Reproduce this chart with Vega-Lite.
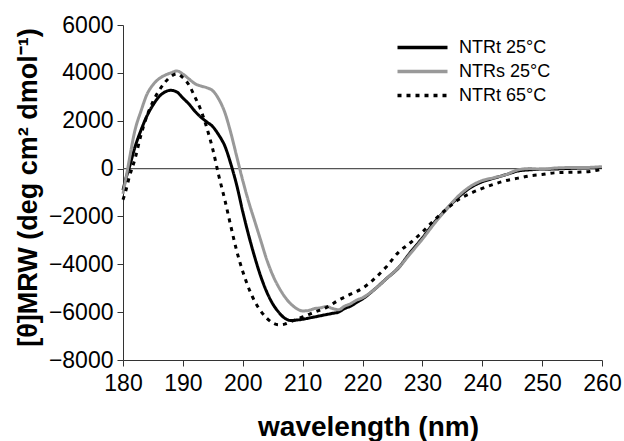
{
  "$schema": "https://vega.github.io/schema/vega-lite/v6.json",
  "width": 479,
  "height": 335,
  "autosize": "none",
  "padding": {"left": 123, "top": 25, "right": 22, "bottom": 81},
  "background": "white",
  "config": {
    "view": {"stroke": null},
    "font": "Liberation Sans",
    "axis": {"grid": false, "domainColor": "#333333", "tickColor": "#333333", "labelColor": "#000000", "titleColor": "#000000", "labelFont": "Liberation Sans", "titleFont": "Liberation Sans"}
  },
  "datasets": {
    "cd": [
      {"s": "NTRt 25°C", "wl": 180, "v": -900},
      {"s": "NTRt 25°C", "wl": 180.5, "v": -400},
      {"s": "NTRt 25°C", "wl": 181, "v": 0},
      {"s": "NTRt 25°C", "wl": 182, "v": 900},
      {"s": "NTRt 25°C", "wl": 183, "v": 1600},
      {"s": "NTRt 25°C", "wl": 184, "v": 2200},
      {"s": "NTRt 25°C", "wl": 185, "v": 2650},
      {"s": "NTRt 25°C", "wl": 186, "v": 3000},
      {"s": "NTRt 25°C", "wl": 187, "v": 3200},
      {"s": "NTRt 25°C", "wl": 188, "v": 3270},
      {"s": "NTRt 25°C", "wl": 189, "v": 3200},
      {"s": "NTRt 25°C", "wl": 190, "v": 2950},
      {"s": "NTRt 25°C", "wl": 191, "v": 2700},
      {"s": "NTRt 25°C", "wl": 192, "v": 2400},
      {"s": "NTRt 25°C", "wl": 193, "v": 2150},
      {"s": "NTRt 25°C", "wl": 194, "v": 1950},
      {"s": "NTRt 25°C", "wl": 195, "v": 1750},
      {"s": "NTRt 25°C", "wl": 196, "v": 1400},
      {"s": "NTRt 25°C", "wl": 197, "v": 950},
      {"s": "NTRt 25°C", "wl": 198, "v": 200},
      {"s": "NTRt 25°C", "wl": 199, "v": -700},
      {"s": "NTRt 25°C", "wl": 200, "v": -1800},
      {"s": "NTRt 25°C", "wl": 201, "v": -2800},
      {"s": "NTRt 25°C", "wl": 202, "v": -3700},
      {"s": "NTRt 25°C", "wl": 203, "v": -4500},
      {"s": "NTRt 25°C", "wl": 204, "v": -5150},
      {"s": "NTRt 25°C", "wl": 205, "v": -5650},
      {"s": "NTRt 25°C", "wl": 206, "v": -6000},
      {"s": "NTRt 25°C", "wl": 207, "v": -6250},
      {"s": "NTRt 25°C", "wl": 208, "v": -6350},
      {"s": "NTRt 25°C", "wl": 209, "v": -6330},
      {"s": "NTRt 25°C", "wl": 210, "v": -6300},
      {"s": "NTRt 25°C", "wl": 211, "v": -6250},
      {"s": "NTRt 25°C", "wl": 212, "v": -6200},
      {"s": "NTRt 25°C", "wl": 213, "v": -6150},
      {"s": "NTRt 25°C", "wl": 214, "v": -6100},
      {"s": "NTRt 25°C", "wl": 215, "v": -6050},
      {"s": "NTRt 25°C", "wl": 216, "v": -6000},
      {"s": "NTRt 25°C", "wl": 217, "v": -5850},
      {"s": "NTRt 25°C", "wl": 218, "v": -5750},
      {"s": "NTRt 25°C", "wl": 219, "v": -5600},
      {"s": "NTRt 25°C", "wl": 220, "v": -5450},
      {"s": "NTRt 25°C", "wl": 222, "v": -5050},
      {"s": "NTRt 25°C", "wl": 224, "v": -4600},
      {"s": "NTRt 25°C", "wl": 226, "v": -4150},
      {"s": "NTRt 25°C", "wl": 228, "v": -3500},
      {"s": "NTRt 25°C", "wl": 230, "v": -2900},
      {"s": "NTRt 25°C", "wl": 232, "v": -2250},
      {"s": "NTRt 25°C", "wl": 234, "v": -1700},
      {"s": "NTRt 25°C", "wl": 236, "v": -1200},
      {"s": "NTRt 25°C", "wl": 238, "v": -800},
      {"s": "NTRt 25°C", "wl": 240, "v": -550},
      {"s": "NTRt 25°C", "wl": 242, "v": -400},
      {"s": "NTRt 25°C", "wl": 244, "v": -250},
      {"s": "NTRt 25°C", "wl": 246, "v": -100},
      {"s": "NTRt 25°C", "wl": 248, "v": -50},
      {"s": "NTRt 25°C", "wl": 250, "v": -30},
      {"s": "NTRt 25°C", "wl": 252, "v": -20},
      {"s": "NTRt 25°C", "wl": 254, "v": 0},
      {"s": "NTRt 25°C", "wl": 256, "v": 20},
      {"s": "NTRt 25°C", "wl": 258, "v": 30},
      {"s": "NTRt 25°C", "wl": 260, "v": 50},

      {"s": "NTRs 25°C", "wl": 180, "v": -1050},
      {"s": "NTRs 25°C", "wl": 180.5, "v": -400},
      {"s": "NTRs 25°C", "wl": 181, "v": 300},
      {"s": "NTRs 25°C", "wl": 182, "v": 1600},
      {"s": "NTRs 25°C", "wl": 183, "v": 2400},
      {"s": "NTRs 25°C", "wl": 184, "v": 3100},
      {"s": "NTRs 25°C", "wl": 185, "v": 3500},
      {"s": "NTRs 25°C", "wl": 186, "v": 3750},
      {"s": "NTRs 25°C", "wl": 187, "v": 3900},
      {"s": "NTRs 25°C", "wl": 188, "v": 4000},
      {"s": "NTRs 25°C", "wl": 189, "v": 4080},
      {"s": "NTRs 25°C", "wl": 190, "v": 3950},
      {"s": "NTRs 25°C", "wl": 191, "v": 3750},
      {"s": "NTRs 25°C", "wl": 192, "v": 3550},
      {"s": "NTRs 25°C", "wl": 193, "v": 3450},
      {"s": "NTRs 25°C", "wl": 194, "v": 3380},
      {"s": "NTRs 25°C", "wl": 195, "v": 3250},
      {"s": "NTRs 25°C", "wl": 196, "v": 2900},
      {"s": "NTRs 25°C", "wl": 197, "v": 2350},
      {"s": "NTRs 25°C", "wl": 198, "v": 1500},
      {"s": "NTRs 25°C", "wl": 199, "v": 500},
      {"s": "NTRs 25°C", "wl": 200, "v": -500},
      {"s": "NTRs 25°C", "wl": 201, "v": -1400},
      {"s": "NTRs 25°C", "wl": 202, "v": -2200},
      {"s": "NTRs 25°C", "wl": 203, "v": -3000},
      {"s": "NTRs 25°C", "wl": 204, "v": -3800},
      {"s": "NTRs 25°C", "wl": 205, "v": -4450},
      {"s": "NTRs 25°C", "wl": 206, "v": -4950},
      {"s": "NTRs 25°C", "wl": 207, "v": -5350},
      {"s": "NTRs 25°C", "wl": 208, "v": -5650},
      {"s": "NTRs 25°C", "wl": 209, "v": -5850},
      {"s": "NTRs 25°C", "wl": 210, "v": -5950},
      {"s": "NTRs 25°C", "wl": 211, "v": -5930},
      {"s": "NTRs 25°C", "wl": 212, "v": -5850},
      {"s": "NTRs 25°C", "wl": 213, "v": -5820},
      {"s": "NTRs 25°C", "wl": 214, "v": -5760},
      {"s": "NTRs 25°C", "wl": 215, "v": -5850},
      {"s": "NTRs 25°C", "wl": 216, "v": -5900},
      {"s": "NTRs 25°C", "wl": 217, "v": -5750},
      {"s": "NTRs 25°C", "wl": 218, "v": -5650},
      {"s": "NTRs 25°C", "wl": 219, "v": -5500},
      {"s": "NTRs 25°C", "wl": 220, "v": -5400},
      {"s": "NTRs 25°C", "wl": 222, "v": -5050},
      {"s": "NTRs 25°C", "wl": 224, "v": -4600},
      {"s": "NTRs 25°C", "wl": 226, "v": -4150},
      {"s": "NTRs 25°C", "wl": 228, "v": -3550},
      {"s": "NTRs 25°C", "wl": 230, "v": -2950},
      {"s": "NTRs 25°C", "wl": 232, "v": -2300},
      {"s": "NTRs 25°C", "wl": 234, "v": -1700},
      {"s": "NTRs 25°C", "wl": 236, "v": -1150},
      {"s": "NTRs 25°C", "wl": 238, "v": -750},
      {"s": "NTRs 25°C", "wl": 240, "v": -500},
      {"s": "NTRs 25°C", "wl": 242, "v": -380},
      {"s": "NTRs 25°C", "wl": 244, "v": -250},
      {"s": "NTRs 25°C", "wl": 246, "v": -50},
      {"s": "NTRs 25°C", "wl": 248, "v": 0},
      {"s": "NTRs 25°C", "wl": 250, "v": -30},
      {"s": "NTRs 25°C", "wl": 252, "v": 20},
      {"s": "NTRs 25°C", "wl": 254, "v": 40},
      {"s": "NTRs 25°C", "wl": 256, "v": 40},
      {"s": "NTRs 25°C", "wl": 258, "v": 50},
      {"s": "NTRs 25°C", "wl": 260, "v": 80},

      {"s": "NTRt 65°C", "wl": 180, "v": -1300},
      {"s": "NTRt 65°C", "wl": 180.5, "v": -900},
      {"s": "NTRt 65°C", "wl": 181, "v": -400},
      {"s": "NTRt 65°C", "wl": 182, "v": 400},
      {"s": "NTRt 65°C", "wl": 183, "v": 1400},
      {"s": "NTRt 65°C", "wl": 184, "v": 2200},
      {"s": "NTRt 65°C", "wl": 185, "v": 2800},
      {"s": "NTRt 65°C", "wl": 186, "v": 3250},
      {"s": "NTRt 65°C", "wl": 187, "v": 3600},
      {"s": "NTRt 65°C", "wl": 188, "v": 3850},
      {"s": "NTRt 65°C", "wl": 189, "v": 3960},
      {"s": "NTRt 65°C", "wl": 190, "v": 3800},
      {"s": "NTRt 65°C", "wl": 191, "v": 3500},
      {"s": "NTRt 65°C", "wl": 192, "v": 3000},
      {"s": "NTRt 65°C", "wl": 193, "v": 2450},
      {"s": "NTRt 65°C", "wl": 194, "v": 1700},
      {"s": "NTRt 65°C", "wl": 195, "v": 800},
      {"s": "NTRt 65°C", "wl": 196, "v": -300},
      {"s": "NTRt 65°C", "wl": 197, "v": -1300},
      {"s": "NTRt 65°C", "wl": 198, "v": -2400},
      {"s": "NTRt 65°C", "wl": 199, "v": -3450},
      {"s": "NTRt 65°C", "wl": 200, "v": -4300},
      {"s": "NTRt 65°C", "wl": 201, "v": -5000},
      {"s": "NTRt 65°C", "wl": 202, "v": -5550},
      {"s": "NTRt 65°C", "wl": 203, "v": -5950},
      {"s": "NTRt 65°C", "wl": 204, "v": -6250},
      {"s": "NTRt 65°C", "wl": 205, "v": -6450},
      {"s": "NTRt 65°C", "wl": 206, "v": -6530},
      {"s": "NTRt 65°C", "wl": 207, "v": -6500},
      {"s": "NTRt 65°C", "wl": 208, "v": -6400},
      {"s": "NTRt 65°C", "wl": 209, "v": -6300},
      {"s": "NTRt 65°C", "wl": 210, "v": -6200},
      {"s": "NTRt 65°C", "wl": 212, "v": -6000},
      {"s": "NTRt 65°C", "wl": 214, "v": -5800},
      {"s": "NTRt 65°C", "wl": 216, "v": -5500},
      {"s": "NTRt 65°C", "wl": 218, "v": -5250},
      {"s": "NTRt 65°C", "wl": 220, "v": -5000},
      {"s": "NTRt 65°C", "wl": 222, "v": -4600},
      {"s": "NTRt 65°C", "wl": 224, "v": -4100},
      {"s": "NTRt 65°C", "wl": 226, "v": -3500},
      {"s": "NTRt 65°C", "wl": 228, "v": -3100},
      {"s": "NTRt 65°C", "wl": 230, "v": -2650},
      {"s": "NTRt 65°C", "wl": 232, "v": -2150},
      {"s": "NTRt 65°C", "wl": 234, "v": -1700},
      {"s": "NTRt 65°C", "wl": 236, "v": -1300},
      {"s": "NTRt 65°C", "wl": 238, "v": -1040},
      {"s": "NTRt 65°C", "wl": 240, "v": -830},
      {"s": "NTRt 65°C", "wl": 242, "v": -650},
      {"s": "NTRt 65°C", "wl": 244, "v": -500},
      {"s": "NTRt 65°C", "wl": 246, "v": -400},
      {"s": "NTRt 65°C", "wl": 248, "v": -300},
      {"s": "NTRt 65°C", "wl": 250, "v": -250},
      {"s": "NTRt 65°C", "wl": 252, "v": -180},
      {"s": "NTRt 65°C", "wl": 254, "v": -160},
      {"s": "NTRt 65°C", "wl": 256, "v": -150},
      {"s": "NTRt 65°C", "wl": 258, "v": -120},
      {"s": "NTRt 65°C", "wl": 260, "v": -30}
    ],
    "zero": [{"v": 0}]
  },
  "layer": [
    {
      "data": {"name": "zero"},
      "mark": {"type": "rule", "color": "#555555", "strokeWidth": 1.2},
      "encoding": {"y": {"field": "v", "type": "quantitative", "scale": {"domain": [-8000, 6000]}}}
    },
    {
      "data": {"name": "cd"},
      "mark": {"type": "line", "strokeWidth": 3, "interpolate": "monotone"},
      "encoding": {
        "x": {
          "field": "wl", "type": "quantitative",
          "scale": {"domain": [180, 260], "nice": false},
          "axis": {"values": [180, 190, 200, 210, 220, 230, 240, 250, 260], "labelFontSize": 23, "labelPadding": 6, "tickSize": 6, "title": "wavelength (nm)", "titleFontSize": 28, "titleFontWeight": "bold", "titleX": 245, "titleY": 75, "titleBaseline": "alphabetic", "titleAnchor": "middle", "labelFlush": false}
        },
        "y": {
          "field": "v", "type": "quantitative",
          "scale": {"domain": [-8000, 6000], "nice": false},
          "axis": {"values": [-8000, -6000, -4000, -2000, 0, 2000, 4000, 6000], "format": "d", "labelFontSize": 23, "labelPadding": 4, "tickSize": 6, "title": "[θ]MRW (deg cm² dmol⁻¹)", "titleFontSize": 27, "titleFontWeight": "bold", "titleX": -81, "titleY": 162, "titleAnchor": "middle", "titleBaseline": "bottom"}
        },
        "color": {
          "field": "s", "type": "nominal",
          "scale": {"domain": ["NTRt 25°C", "NTRs 25°C", "NTRt 65°C"], "range": ["#000000", "#999999", "#000000"]},
          "legend": {"title": null, "orient": "none", "legendX": 285, "legendY": 8, "symbolType": "M-2,0H2", "symbolSize": 625, "symbolStrokeWidth": 3.5, "labelFontSize": 18, "labelOffset": 22, "rowPadding": 0, "labelColor": "#000000"}
        },
        "strokeDash": {
          "field": "s", "type": "nominal",
          "scale": {"domain": ["NTRt 25°C", "NTRs 25°C", "NTRt 65°C"], "range": [[1, 0], [1, 0], [4, 5]]},
          "legend": null
        }
      }
    }
  ]
}
